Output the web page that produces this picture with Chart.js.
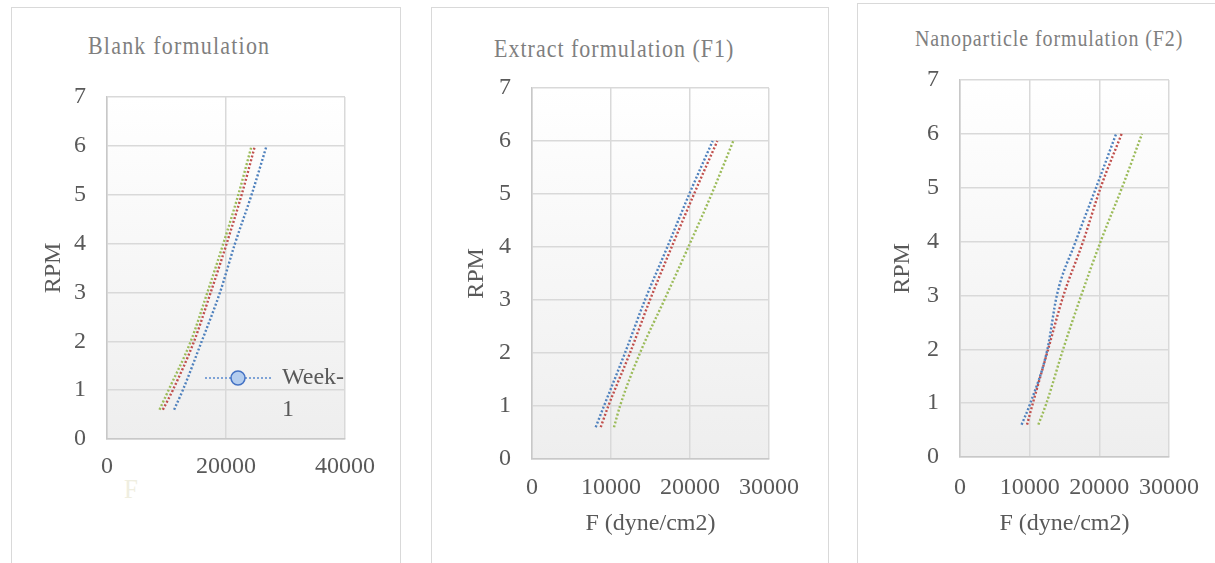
<!DOCTYPE html>
<html>
<head>
<meta charset="utf-8">
<script src="https://cdn.jsdelivr.net/npm/chart.js@4.4.1/dist/chart.umd.min.js"></script>
<style>
  body { margin:0; background:#fff; width:1215px; height:563px; overflow:hidden; position:relative; font-family:'Liberation Serif', 'Times New Roman', serif; }
  .frame { position:absolute; border:1.5px solid #d9d9d9; }
  .ttl { position:absolute; color:#7f7f7f; white-space:nowrap; line-height:1; transform:scaleY(1.12); transform-origin:left center; }
  canvas { position:absolute; top:0; }
</style>
</head>
<body>
<div class="frame" style="left:11px;top:7px;width:388px;height:620px"></div>
<div class="frame" style="left:431px;top:7px;width:396px;height:620px"></div>
<div class="frame" style="left:857px;top:3px;width:420px;height:620px"></div>

<div class="ttl" style="left:88px;top:35px;font-size:22px;letter-spacing:1.2px">Blank formulation</div>
<div class="ttl" style="left:494px;top:38px;font-size:22px;letter-spacing:1px">Extract formulation (F1)</div>
<div class="ttl" style="left:915px;top:28px;font-size:20px;letter-spacing:0.9px">Nanoparticle formulation (F2)</div>
<div class="ttl" style="left:124px;top:476px;font-size:25px;color:#efeee0">F</div>

<canvas id="c1" width="405" height="563" style="left:0px"></canvas>
<canvas id="c2" width="420" height="563" style="left:420px"></canvas>
<canvas id="c3" width="370" height="563" style="left:845px"></canvas>

<script>
// shared RPM readings (y) and series names
const rpm = [0.6, 1, 2, 3, 4, 5, 6];
const weekNames = ['Week-1', 'Week-2', 'Week-3'];
const lineColors = ['#4f81bd', '#c0504d', '#9bbb59'];
const yTicks = [0, 1, 2, 3, 4, 5, 6, 7];

// F (dyne/cm2) per formulation, one array per week
const blankW1 = [11280, 12740, 15920, 18990, 21510, 24300, 26820];
const blankW2 = [9390, 11060, 14640, 17430, 20110, 22630, 24860];
const blankW3 = [8830, 10340, 14080, 16870, 19550, 22070, 24300];

const f1W1 = [8060, 9110, 11770, 14300, 17130, 19910, 22870];
const f1W2 = [8700, 9660, 12400, 14930, 17680, 20510, 23460];
const f1W3 = [10380, 11140, 13670, 16750, 19790, 22740, 25480];

const f2W1 = [8840, 10100, 12550, 13900, 16600, 19530, 22410];
const f2W2 = [9620, 10460, 12650, 14850, 17670, 20180, 23200];
const f2W3 = [11250, 12410, 14800, 17400, 20180, 23250, 26130];

const blankXTicks = [0, 20000, 40000];
const fXTicks = [0, 10000, 20000, 30000];

const serif = "'Liberation Serif', 'Times New Roman', serif";
const tickFont = { family: serif, size: 24 };
const grey = '#595959';

// gradient fill behind the plot area
const plotBg = {
  id: 'plotBg',
  beforeDraw(chart) {
    const { ctx, chartArea: a } = chart;
    const g = ctx.createLinearGradient(0, a.top, 0, a.bottom);
    g.addColorStop(0, '#ffffff');
    g.addColorStop(1, '#eeeeee');
    ctx.save();
    ctx.fillStyle = g;
    ctx.fillRect(a.left, a.top, a.right - a.left, a.bottom - a.top);
    ctx.restore();
  }
};

// the lone "Week-1" legend entry sitting inside the first plot
const weekLegend = {
  id: 'weekLegend',
  afterDraw(chart) {
    const ctx = chart.ctx;
    ctx.save();
    ctx.strokeStyle = '#7fa3d6';
    ctx.lineWidth = 2;
    ctx.setLineDash([2, 2]);
    ctx.beginPath();
    ctx.moveTo(205, 378);
    ctx.lineTo(272, 378);
    ctx.stroke();
    ctx.setLineDash([]);
    ctx.beginPath();
    ctx.arc(238, 378, 7, 0, Math.PI * 2);
    ctx.fillStyle = '#b4cdee';
    ctx.fill();
    ctx.lineWidth = 1.5;
    ctx.strokeStyle = '#4472c4';
    ctx.stroke();
    ctx.fillStyle = grey;
    ctx.font = '24px ' + serif;
    ctx.textBaseline = 'middle';
    ctx.fillText(weekNames[0].slice(0, 5), 282, 378);
    ctx.fillText(weekNames[0].slice(5), 282, 410);
    ctx.restore();
  }
};

function buildPanel(id, xTicks, weeks, geo, xTitle, extra) {
  const ctx = document.getElementById(id);
  return new Chart(ctx, {
    type: 'scatter',
    data: {
      datasets: weeks.map((w, i) => ({
        label: weekNames[i],
        data: rpm.map((r, k) => ({ x: w[k], y: r })),
        showLine: true,
        borderColor: lineColors[i],
        borderWidth: 2.4,
        borderDash: [2, 2],
        pointRadius: 0,
        cubicInterpolationMode: 'monotone',
        fill: false
      }))
    },
    options: {
      responsive: false,
      animation: false,
      layout: { padding: { left: 0, top: geo.top, right: geo.right, bottom: 0 } },
      plugins: { legend: { display: false }, tooltip: { enabled: false } },
      scales: {
        x: {
          type: 'linear',
          min: xTicks[0], max: xTicks[xTicks.length - 1],
          afterBuildTicks: s => { s.ticks = xTicks.map(v => ({ value: v })); },
          afterFit: s => { s.height = geo.xh; },
          ticks: { color: grey, font: tickFont, padding: geo.xpad, maxRotation: 0, callback: v => String(v) },
          grid: { color: '#d9d9d9', lineWidth: 1.5, drawTicks: false },
          border: { color: '#c8c8c8', width: 1.5 },
          title: {
            display: !!xTitle, text: xTitle, color: grey,
            font: { family: serif, size: 24 },
            padding: { top: 0, bottom: 25 }
          }
        },
        y: {
          min: 0, max: 7,
          afterBuildTicks: s => { s.ticks = yTicks.map(v => ({ value: v })); },
          afterFit: s => { s.width = geo.yw; },
          ticks: { color: grey, font: tickFont, padding: 21 },
          grid: { color: '#d9d9d9', lineWidth: 1.5, drawTicks: false },
          border: { color: '#c8c8c8', width: 1.5 },
          title: {
            display: true, text: 'RPM', color: grey,
            font: { family: serif, size: 24 },
            padding: { top: geo.tp, bottom: 0 }
          }
        }
      }
    },
    plugins: [plotBg].concat(extra || [])
  });
}

function drawAll() {
  buildPanel('c1', blankXTicks, [blankW1, blankW2, blankW3],
    { top: 97, right: 60, xh: 124, yw: 107, xpad: 13, tp: 39 }, '', [weekLegend]);
  buildPanel('c2', fXTicks, [f1W1, f1W2, f1W3],
    { top: 88, right: 71, xh: 104, yw: 112, xpad: 14, tp: 42 }, 'F (dyne/cm2)');
  buildPanel('c3', fXTicks, [f2W1, f2W2, f2W3],
    { top: 80, right: 41, xh: 106, yw: 115, xpad: 16, tp: 43 }, 'F (dyne/cm2)');
}

document.fonts.load('24px "Liberation Serif"').then(drawAll, drawAll);
</script>
</body>
</html>
